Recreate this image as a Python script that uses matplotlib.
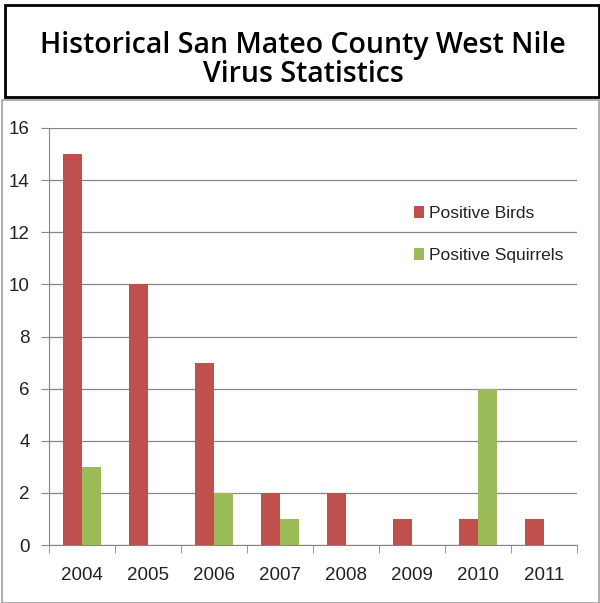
import matplotlib
matplotlib.use("Agg")
import matplotlib.pyplot as plt
from matplotlib.patches import Rectangle
import numpy as np

years = ["2004", "2005", "2006", "2007", "2008", "2009", "2010", "2011"]
birds = [15, 10, 7, 2, 2, 1, 1, 1]
squirrels = [3, 0, 2, 1, 0, 0, 6, 0]
yticks = [0, 2, 4, 6, 8, 10, 12, 14, 16]

title = "Historical San Mateo County West Nile\nVirus Statistics"
red = "#C0504D"
green = "#9BBB59"
fnt = ["Liberation Sans", "DejaVu Sans"]

W, H = 600, 603
fig = plt.figure(figsize=(W/100, H/100), dpi=100)

def px(x0, y0, x1, y1):
    return (x0/W, 1 - y1/H, (x1-x0)/W, (y1-y0)/H)

# title box
l, b, w, h = px(5, 5, 599, 97)
fig.patches.append(Rectangle((l, b), w, h, transform=fig.transFigure,
                             fill=False, edgecolor="black", linewidth=2))
fig.text(0.505, 1 - 60/H, title, ha="center", va="center", fontsize=20.5,
         fontweight="semibold", family=["Open Sans", "DejaVu Sans"], linespacing=0.98)

# chart box
l, b, w, h = px(2, 100, 599, 603)
fig.patches.append(Rectangle((l, b), w, h, transform=fig.transFigure,
                             fill=False, edgecolor="#A0A0A0", linewidth=1.2))

ax = fig.add_axes(px(49, 128, 577, 545))
x = np.arange(len(years))
bw = 0.2857
ax.bar(x - bw/2, birds, width=bw, color=red, label="Positive Birds", zorder=3)
ax.bar(x + bw/2, squirrels, width=bw, color=green, label="Positive Squirrels", zorder=3)

ax.set_xlim(-0.5, len(years) - 0.5)
ax.set_ylim(0, 16)
ax.set_yticks(yticks)
ax.set_xticks(x)
ax.set_xticklabels(years)
ax.set_xticks(np.arange(len(years) + 1) - 0.5, minor=True)
ax.tick_params(axis="x", which="major", length=0, pad=16, labelsize=13.5)
ax.tick_params(axis="x", which="minor", length=6, color="#868686", direction="out")
ax.tick_params(axis="y", length=6, color="#868686", direction="out", pad=8, labelsize=13.5)
for lab in ax.get_xticklabels() + ax.get_yticklabels():
    lab.set_family(fnt)
    lab.set_color("#222222")
ax.grid(axis="y", color="#868686", linewidth=0.9, zorder=0)
for s in ["top", "right"]:
    ax.spines[s].set_visible(False)
for s in ["left", "bottom"]:
    ax.spines[s].set_color("#868686")

leg = ax.legend(loc="upper left", bbox_to_anchor=((398-49)/528, (545-190)/417),
                frameon=False, handlelength=0.6, handleheight=0.7,
                handletextpad=0.3, labelspacing=1.55, prop={"family": fnt, "size": 12.5})
for t in leg.get_texts():
    t.set_color("#222222")

fig.savefig("out.png", dpi=100)
